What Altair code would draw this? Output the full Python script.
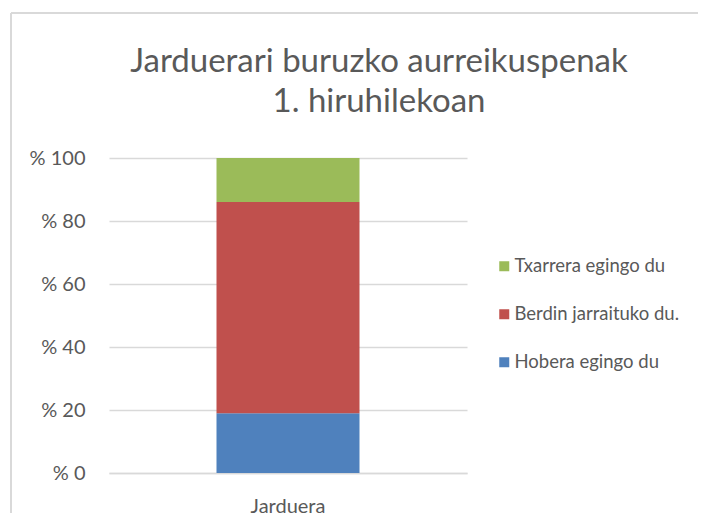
import altair as alt
import pandas as pd

categories = ["Jarduera", "Jarduera", "Jarduera"]
series = ["Hobera egingo du", "Berdin jarraituko du.", "Txarrera egingo du"]
values = [19, 67, 14]
stack_order = [1, 2, 3]
legend_order = ["Txarrera egingo du", "Berdin jarraituko du.", "Hobera egingo du"]
colors = ["#9BBB59", "#C0504D", "#4F81BD"]
y_ticks = [0, 20, 40, 60, 80, 100]

df = pd.DataFrame({"cat": categories, "series": series, "value": values, "ord": stack_order})

FONT = "Lato"
TXT = "#595959"

bars = alt.Chart(df).mark_bar(size=143).encode(
    x=alt.X("cat:N", title=None,
            axis=alt.Axis(labelAngle=0, labelFontSize=20, labelColor=TXT, labelFont=FONT,
                          ticks=False, domainColor="#D9D9D9", domainWidth=1.5, labelPadding=23)),
    y=alt.Y("value:Q", stack="zero", title=None,
            scale=alt.Scale(domain=[0, 100]),
            axis=alt.Axis(values=y_ticks, labelExpr="'% ' + datum.value", labelFontSize=20,
                          labelColor=TXT, labelFont=FONT, ticks=False, domain=False,
                          labelPadding=24, gridColor="#D9D9D9", gridWidth=1.3)),
    color=alt.Color("series:N", sort=legend_order,
                    scale=alt.Scale(domain=legend_order, range=colors),
                    legend=alt.Legend(title=None, orient="none", legendX=386, legendY=99,
                                      symbolType="square", symbolSize=100, symbolStrokeWidth=0,
                                      labelFontSize=18.5, labelColor=TXT, labelFont=FONT,
                                      labelLimit=300, rowPadding=29, labelOffset=1)),
    order=alt.Order("ord:Q"),
)

border_top = alt.Chart().mark_rule(color="#D9D9D9", strokeWidth=1.5).encode(
    x=alt.value(-98), x2=alt.value(589), y=alt.value(-145))
border_left = alt.Chart().mark_rule(color="#D9D9D9", strokeWidth=1.5).encode(
    x=alt.value(-98), y=alt.value(-145), y2=alt.value(355))

chart = alt.layer(border_top, border_left, bars, data=df).properties(
    width=358, height=315,
    padding={"left": 2, "top": 4, "right": 0, "bottom": 0},
    title=alt.TitleParams(["Jarduerari buruzko aurreikuspenak", "1. hiruhilekoan"],
                          anchor="middle", dx=91, fontSize=33, font=FONT, fontWeight="normal",
                          color=TXT, lineHeight=40, offset=-107),
).configure_view(stroke=None)

chart.save("out.html", embed_options={"renderer": "svg", "actions": False})
